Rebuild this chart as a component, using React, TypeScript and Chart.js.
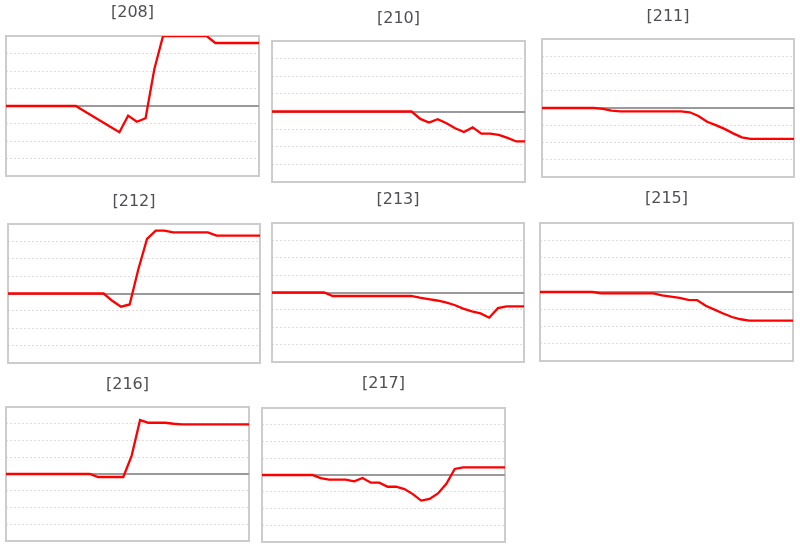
import React, { useEffect, useRef } from "react";
import { Chart, registerables } from "chart.js";

Chart.register(...registerables);

// ---- data ----
const days = ["1", "2", "3", "4", "5", "6", "7", "8", "9", "10", "11", "12", "13", "14", "15", "16", "17", "18", "19", "20", "21", "22", "23", "24", "25", "26", "27", "28", "29", "30"];

const panelTitles = ["[208]", "[210]", "[211]", "[212]", "[213]", "[215]", "[216]", "[217]"];

const s208 = [0, 0, 0, 0, 0, 0, 0, 0, 0, -0.3, -0.6, -0.9, -1.2, -1.5, -0.55, -0.9, -0.7, 2.1, 4, 4, 4, 4, 4, 4, 3.6, 3.6, 3.6, 3.6, 3.6, 3.6];
const s210 = [0, 0, 0, 0, 0, 0, 0, 0, 0, 0, 0, 0, 0, 0, 0, 0, 0, -0.42, -0.63, -0.44, -0.67, -0.95, -1.16, -0.9, -1.26, -1.26, -1.33, -1.5, -1.7, -1.7];
const s211 = [0, 0, 0, 0, 0, 0, 0, -0.05, -0.15, -0.19, -0.19, -0.19, -0.19, -0.19, -0.19, -0.19, -0.19, -0.25, -0.46, -0.8, -0.99, -1.21, -1.47, -1.7, -1.79, -1.79, -1.79, -1.79, -1.79, -1.79];
const s212 = [0, 0, 0, 0, 0, 0, 0, 0, 0, 0, 0, 0, -0.42, -0.76, -0.63, 1.4, 3.14, 3.62, 3.62, 3.52, 3.52, 3.52, 3.52, 3.52, 3.33, 3.33, 3.33, 3.33, 3.33, 3.33];
const s213 = [0, 0, 0, 0, 0, 0, 0, -0.2, -0.2, -0.2, -0.2, -0.2, -0.2, -0.2, -0.2, -0.2, -0.2, -0.3, -0.38, -0.46, -0.57, -0.72, -0.93, -1.09, -1.2, -1.45, -0.9, -0.8, -0.8, -0.8];
const s215 = [0, 0, 0, 0, 0, 0, 0, -0.08, -0.08, -0.08, -0.08, -0.08, -0.08, -0.08, -0.19, -0.27, -0.34, -0.46, -0.47, -0.8, -1.02, -1.25, -1.45, -1.58, -1.66, -1.66, -1.66, -1.66, -1.66, -1.66];
const s216 = [0, 0, 0, 0, 0, 0, 0, 0, 0, 0, 0, -0.18, -0.18, -0.18, -0.18, 1.1, 3.22, 3.06, 3.06, 3.06, 3.0, 2.96, 2.96, 2.96, 2.96, 2.96, 2.96, 2.96, 2.96, 2.96];
const s217 = [0, 0, 0, 0, 0, 0, 0, -0.18, -0.28, -0.28, -0.28, -0.38, -0.18, -0.46, -0.46, -0.7, -0.7, -0.84, -1.14, -1.53, -1.43, -1.1, -0.52, 0.36, 0.46, 0.46, 0.46, 0.46, 0.46, 0.46];

const seriesList = [s208, s210, s211, s212, s213, s215, s216, s217];

const yMin = -4;
const yMax = 4;
const yStep = 1;

// ---- layout (plot box edges and title centre, in page pixels) ----
const layouts = [
  { l: 6, t: 36, r: 259, b: 176, ty: 13 },
  { l: 272, t: 41, r: 525, b: 182, ty: 18.5 },
  { l: 542, t: 39, r: 794, b: 177, ty: 16.5 },
  { l: 8, t: 224, r: 260, b: 363, ty: 201.5 },
  { l: 272, t: 223, r: 524, b: 362, ty: 199.7 },
  { l: 540, t: 223, r: 793, b: 361, ty: 199 },
  { l: 6, t: 407, r: 249, b: 541, ty: 384.5 },
  { l: 262, t: 408, r: 505, b: 542, ty: 384 },
];

const framePlugin = {
  id: "frame",
  beforeDatasetsDraw(chart: any) {
    const { ctx, chartArea: a, scales } = chart;
    const y0 = Math.round(scales.y.getPixelForValue(0));
    ctx.save();
    ctx.strokeStyle = "#cccccc";
    ctx.lineWidth = 2;
    ctx.strokeRect(a.left, a.top, a.right - a.left, a.bottom - a.top);
    ctx.strokeStyle = "#9a9a9a";
    ctx.lineWidth = 2;
    ctx.beginPath();
    ctx.moveTo(a.left, y0);
    ctx.lineTo(a.right, y0);
    ctx.stroke();
    ctx.restore();
  },
};

const PAD = 3;
const FONT_SIZE = 16;
const LINE_H = 19;

function Panel({ title, values, lay }: { title: string; values: number[]; lay: any }) {
  const ref = useRef<HTMLCanvasElement | null>(null);
  const top = Math.round(lay.ty - 15);
  const left = lay.l - PAD;
  const width = lay.r - lay.l + 2 * PAD;
  const height = lay.b + PAD - top;
  const padTop = lay.ty - LINE_H / 2 - top;
  const padBottom = lay.t - lay.ty - LINE_H / 2;

  useEffect(() => {
    if (!ref.current) return;
    const chart = new Chart(ref.current, {
      type: "line",
      data: {
        labels: days,
        datasets: [
          {
            data: values,
            borderColor: "#ff0000",
            borderWidth: 2.3,
            pointRadius: 0,
            tension: 0,
            fill: false,
          },
        ],
      },
      options: {
        animation: false,
        responsive: false,
        maintainAspectRatio: false,
        devicePixelRatio: 1,
        layout: { padding: { left: PAD, right: PAD, top: 0, bottom: PAD } },
        plugins: {
          legend: { display: false },
          tooltip: { enabled: false },
          title: {
            display: true,
            text: title,
            color: "#4f4f57",
            font: { family: "'DejaVu Sans', Verdana, sans-serif", size: FONT_SIZE, weight: "normal", lineHeight: LINE_H / FONT_SIZE },
            padding: { top: padTop, bottom: padBottom },
          },
        },
        scales: {
          x: { display: false },
          y: {
            min: yMin,
            max: yMax,
            ticks: { display: false, stepSize: yStep },
            grid: {
              drawTicks: false,
              lineWidth: 1,
              color: (c: any) =>
                c.tick && (c.tick.value === 0 || c.tick.value === yMin || c.tick.value === yMax)
                  ? "rgba(0,0,0,0)"
                  : "#dddddd",
            },
            border: { display: false, dash: [2, 2] },
          },
        },
      },
      plugins: [framePlugin],
    } as any);
    return () => chart.destroy();
  }, [title, values]);

  return (
    <canvas
      ref={ref}
      width={width}
      height={height}
      style={{ position: "absolute", left, top, width, height }}
    />
  );
}

export default function App() {
  return (
    <div style={{ position: "absolute", left: 0, top: 0, width: 800, height: 546, background: "#ffffff", overflow: "hidden" }}>
      {panelTitles.map((t, i) => (
        <Panel key={t} title={t} values={seriesList[i]} lay={layouts[i]} />
      ))}
    </div>
  );
}
